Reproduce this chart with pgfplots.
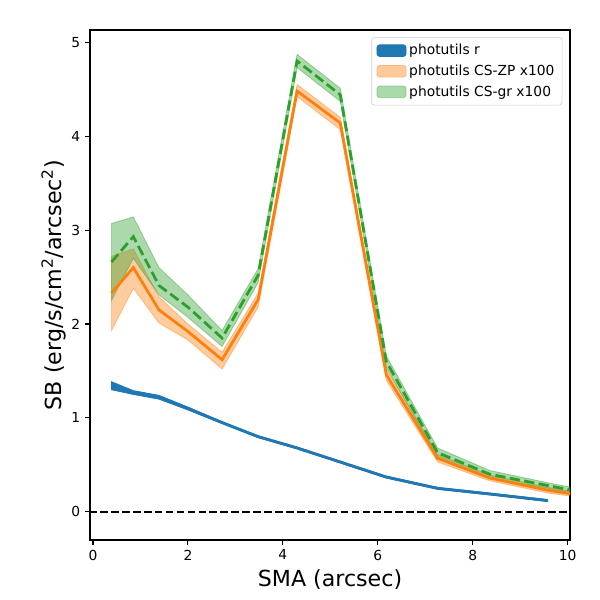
\documentclass[border=0pt]{standalone}
\usepackage{pgfplots}
\pgfplotsset{compat=1.18}
\usepackage{fontspec}
\setmainfont{DejaVu Sans}
\definecolor{c0}{HTML}{1F77B4}
\definecolor{c1}{HTML}{FF7F0E}
\definecolor{c2}{HTML}{2CA02C}
\begin{document}
\begin{tikzpicture}
\begin{axis}[
  scale only axis, width=4.8in, height=5.1in,
  xmin=-0.063, xmax=10.05, ymin=-0.30, ymax=5.13,
  xtick={0,2,4,6,8,10}, ytick={0,1,2,3,4,5},
  tick align=outside, tick pos=left, major tick length=3.5pt,
  tick style={black, line width=0.8pt},
  axis line style={line width=0.8pt},
  minor tick num=0,
  /pgf/number format/assume math mode=true,
  ticklabel style={font=\fontsize{10}{12}\selectfont},
  label style={font=\fontsize{16}{19}\selectfont},
  xlabel={SMA (arcsec)},
  ylabel={SB (erg/s/cm\textsuperscript{2}/arcsec\textsuperscript{2})},
  ylabel shift=-3pt,
  legend style={at={(0.984,0.986)}, anchor=north east, draw=black!20, rounded corners=2pt,
    font=\fontsize{10}{12}\selectfont, row sep=1.8pt, inner xsep=3.5pt, inner ysep=3pt},
  legend cell align=left,
  legend image code/.code={\draw[#1] (-1pt,-4.2pt) rectangle (20pt,4.2pt);},
]
% bands
\addplot[fill=c0, draw=c0, line width=0.6pt] coordinates {
 (0.39,1.385) (0.85,1.29) (1.39,1.24) (2.00,1.115) (2.72,0.96) (3.48,0.81) (4.30,0.69) (5.21,0.54) (6.18,0.38) (7.26,0.26) (8.36,0.20) (9.58,0.13)
 (9.58,0.11) (8.36,0.18) (7.26,0.24) (6.18,0.36) (5.21,0.52) (4.30,0.67) (3.48,0.79) (2.72,0.94) (2.00,1.085) (1.39,1.20) (0.85,1.25) (0.39,1.30)
} -- cycle;
\addlegendentry{photutils r}
\addplot[fill=c1, draw=c1, opacity=0.4, line width=0.6pt] coordinates {
 (0.39,2.72) (0.85,2.80) (1.39,2.29) (2.00,2.00) (2.72,1.70) (3.48,2.33) (4.30,4.55) (5.21,4.20) (6.18,1.52) (7.26,0.61) (8.36,0.39) (9.58,0.26) (10.9,0.15)
 (10.9,0.11) (9.58,0.20) (8.36,0.33) (7.26,0.53) (6.18,1.40) (5.21,4.07) (4.30,4.42) (3.48,2.18) (2.72,1.52) (2.00,1.83) (1.39,2.01) (0.85,2.38) (0.39,1.93)
} -- cycle;
\addlegendentry{photutils CS-ZP x100}
\addplot[fill=c2, draw=c2, opacity=0.4, line width=0.6pt] coordinates {
 (0.39,3.07) (0.85,3.14) (1.39,2.60) (2.00,2.31) (2.72,1.93) (3.48,2.59) (4.30,4.87) (5.21,4.51) (6.18,1.66) (7.26,0.68) (8.36,0.44) (9.58,0.31) (10.9,0.18)
 (10.9,0.12) (9.58,0.25) (8.36,0.36) (7.26,0.58) (6.18,1.54) (5.21,4.37) (4.30,4.73) (3.48,2.44) (2.72,1.76) (2.00,2.07) (1.39,2.31) (0.85,2.70) (0.39,2.25)
} -- cycle;
\addlegendentry{photutils CS-gr x100}
% lines
\addplot[forget plot, c0, line width=2pt] coordinates {
 (0.39,1.34) (0.85,1.27) (1.39,1.22) (2.00,1.10) (2.72,0.95) (3.48,0.80) (4.30,0.68) (5.21,0.53) (6.18,0.37) (7.26,0.25) (8.36,0.19) (9.58,0.12)
};
\addplot[forget plot, c1, line width=2pt] coordinates {
 (0.39,2.33) (0.85,2.60) (1.39,2.15) (2.00,1.92) (2.72,1.62) (3.48,2.26) (4.30,4.48) (5.21,4.14) (6.18,1.46) (7.26,0.57) (8.36,0.36) (9.58,0.23) (10.9,0.13)
};
\addplot[forget plot, c2, line width=2pt, dash pattern=on 7.4pt off 3.2pt] coordinates {
 (0.39,2.66) (0.85,2.93) (1.39,2.41) (2.00,2.18) (2.72,1.85) (3.48,2.52) (4.30,4.80) (5.21,4.44) (6.18,1.60) (7.26,0.63) (8.36,0.40) (9.58,0.28) (10.9,0.15)
};
\addplot[forget plot, black, line width=1.5pt, dash pattern=on 5.5pt off 2.4pt] coordinates {(-1,0) (11,0)};
\node[anchor=base west, inner sep=0pt, font=\fontsize{10}{12}\selectfont] at ([yshift=4pt]rel axis cs:0,1) {1e−14};
\end{axis}
\path (current axis.south west) ++(-0.9in,-0.6in) coordinate (bl);
\path (current axis.north east) ++(0.3in,0.3in) coordinate (tr);
\pgfresetboundingbox
\path[use as bounding box] (bl) rectangle (tr);
\end{tikzpicture}
\end{document}
